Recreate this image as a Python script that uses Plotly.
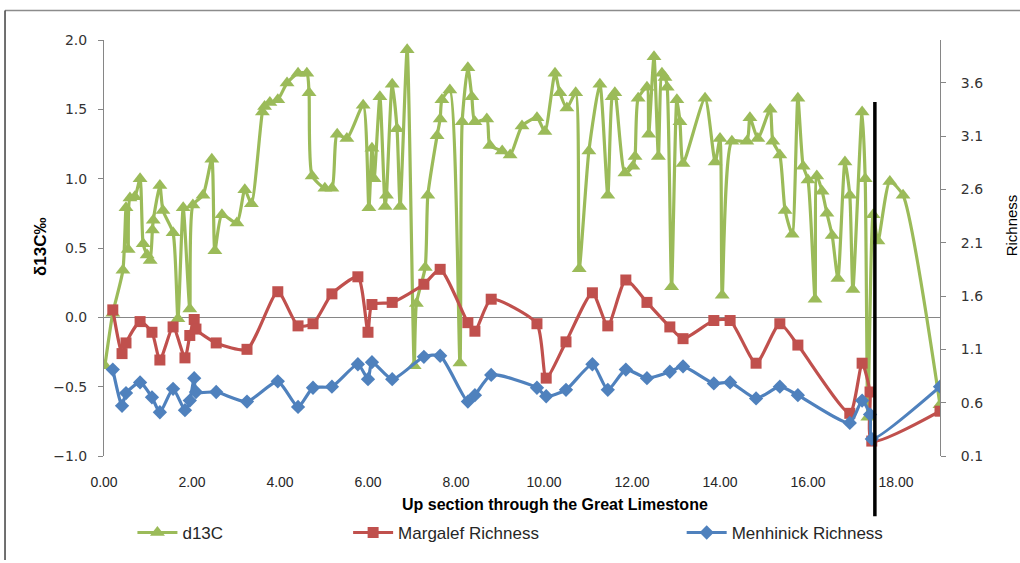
import plotly.graph_objects as go

# ---- d13C series (left axis) ----
depth_c = [0.02, 0.2, 0.43, 0.5, 0.55, 0.59, 0.7, 0.82, 0.89, 0.98,
           1.05, 1.1, 1.12, 1.27, 1.34, 1.57, 1.68, 1.8, 1.95, 2.02,
           2.25, 2.45, 2.52, 2.68, 3.02, 3.2, 3.35, 3.6, 3.65, 3.77,
           3.95, 4.16, 4.41, 4.61, 4.66, 4.73, 5.02, 5.18, 5.3, 5.52,
           5.89, 6.02, 6.09, 6.14, 6.27, 6.39, 6.42, 6.55, 6.66, 6.73,
           6.89, 7.05, 7.1, 7.3, 7.36, 7.57, 7.64, 7.68, 7.86, 8.09,
           8.14, 8.27, 8.36, 8.43, 8.7, 8.77, 9.05, 9.23, 9.5, 9.84,
           10.02, 10.25, 10.36, 10.52, 10.72, 10.8, 11.02, 11.27, 11.45, 11.55,
           11.61, 11.84, 12.02, 12.07, 12.14, 12.34, 12.38, 12.5, 12.6, 12.68,
           12.75, 12.8, 12.9, 13.02, 13.09, 13.16, 13.66, 13.89, 14.0, 14.05,
           14.27, 14.61, 14.68, 14.86, 15.14, 15.2, 15.36, 15.48, 15.64, 15.77,
           15.89, 16.0, 16.16, 16.2, 16.32, 16.43, 16.55, 16.68, 16.84, 16.95,
           17.02, 17.23, 17.3, 17.36, 17.48, 17.59, 17.86, 18.16, 19.0]
d13c = [-0.35, 0.03, 0.34, 0.79, 0.49, 0.86, 0.87, 1.0, 0.53, 0.45,
        0.41, 0.63, 0.7, 0.95, 0.77, 0.61, -0.01, 0.79, 0.06, 0.81,
        0.88, 1.14, 0.48, 0.74, 0.68, 0.92, 0.82, 1.48, 1.52, 1.55,
        1.57, 1.69, 1.76, 1.76, 1.62, 1.02, 0.93, 0.93, 1.32, 1.29,
        1.53, 0.79, 1.22, 1.0, 1.59, 0.8, 0.88, 1.68, 1.36, 0.8,
        1.93, -0.35, 0.1, 0.36, 0.88, 1.31, 1.43, 1.57, 1.64, -0.33,
        1.41, 1.8, 1.59, 1.41, 1.43, 1.24, 1.2, 1.17, 1.38, 1.44,
        1.34, 1.76, 1.62, 1.51, 1.62, 0.35, 1.2, 1.68, 0.88, 1.59,
        1.62, 1.04, 1.09, 1.16, 1.58, 1.66, 1.32, 1.88, 1.16, 1.76,
        1.73, 1.66, 0.22, 1.57, 1.41, 1.11, 1.58, 1.12, 1.29, 0.16,
        1.27, 1.27, 1.44, 1.29, 1.5, 1.27, 1.17, 0.77, 0.6, 1.58,
        1.09, 0.99, 0.13, 1.02, 0.91, 0.75, 0.59, 0.28, 1.12, 0.88,
        0.2, 1.48, 1.0, -0.72, 0.74, 0.55, 0.98, 0.88, -0.63]

# ---- Richness series (right axis) ----
depth_r = [0.2, 0.41, 0.5, 0.82, 1.09, 1.27, 1.57, 1.84, 1.95, 2.05,
           2.09, 2.55, 3.25, 3.95, 4.41, 4.75, 5.18, 5.77, 6.0, 6.09,
           6.55, 7.27, 7.64, 8.27, 8.43, 8.8, 9.84, 10.05, 10.5, 11.1,
           11.45, 11.86, 12.34, 12.86, 13.16, 13.86, 14.23, 14.82, 15.36, 15.77,
           16.95, 17.23, 17.41, 17.45, 19.0]
margalef = [1.47, 1.06, 1.16, 1.36, 1.26, 1.0, 1.31, 1.02, 1.23, 1.38,
            1.29, 1.16, 1.1, 1.64, 1.32, 1.34, 1.62, 1.78, 1.26, 1.52,
            1.54, 1.71, 1.85, 1.35, 1.27, 1.57, 1.34, 0.83, 1.17, 1.63,
            1.32, 1.75, 1.54, 1.31, 1.2, 1.37, 1.37, 0.97, 1.34, 1.14,
            0.5, 0.97, 0.7, 0.24, 0.52]
menhinick = [0.91, 0.57, 0.69, 0.79, 0.65, 0.51, 0.73, 0.53, 0.62, 0.83,
             0.7, 0.7, 0.61, 0.8, 0.56, 0.74, 0.75, 0.96, 0.82, 0.98,
             0.82, 1.03, 1.04, 0.61, 0.67, 0.86, 0.74, 0.66, 0.72, 0.96,
             0.72, 0.91, 0.83, 0.89, 0.94, 0.78, 0.79, 0.64, 0.75, 0.67,
             0.41, 0.62, 0.49, 0.26, 0.75]

x_ticks = [0, 2, 4, 6, 8, 10, 12, 14, 16, 18]
left_ticks = [-1.0, -0.5, 0.0, 0.5, 1.0, 1.5, 2.0]
right_ticks = [0.1, 0.6, 1.1, 1.6, 2.1, 2.6, 3.1, 3.6]
marker_depth = 17.52

GREEN = "#9BBB59"
RED = "#C0504D"
BLUE = "#4F81BD"
AXIS = "#868686"
FONT = "Liberation Sans Narrow, Arial Narrow, Liberation Sans, sans-serif"

fig = go.Figure()
fig.add_trace(go.Scatter(
    x=depth_c, y=d13c, name="d13C", mode="lines+markers",
    line=dict(color=GREEN, width=3.2, shape="spline", smoothing=0.6),
    marker=dict(symbol="triangle-up", size=13, color=GREEN),
    legend="legend"))
fig.add_trace(go.Scatter(
    x=depth_r, y=margalef, name="Margalef Richness", mode="lines+markers",
    line=dict(color=RED, width=3.2, shape="spline", smoothing=0.6),
    marker=dict(symbol="square", size=11, color=RED),
    yaxis="y2", legend="legend2"))
fig.add_trace(go.Scatter(
    x=depth_r, y=menhinick, name="Menhinick Richness", mode="lines+markers",
    line=dict(color=BLUE, width=3.2, shape="spline", smoothing=0.6),
    marker=dict(symbol="diamond", size=11, color=BLUE),
    yaxis="y2", legend="legend3"))

legend_common = dict(orientation="h", yanchor="middle", y=-0.185,
                     xanchor="left", bgcolor="rgba(0,0,0,0)",
                     font=dict(family=FONT, size=17, color="#262626"),
                     itemwidth=40)

fig.update_layout(
    width=1020, height=563,
    margin=dict(l=104, r=80, t=40, b=101),
    paper_bgcolor="white", plot_bgcolor="white",
    showlegend=True,
    legend=dict(x=0.034, **legend_common),
    legend2=dict(x=0.292, **legend_common),
    legend3=dict(x=0.691, **legend_common),
    xaxis=dict(range=[0, 19], tickvals=x_ticks, tickformat=".2f",
               showgrid=False, zeroline=False, showline=False, ticks="",
               ticklabelstandoff=16,
               tickfont=dict(family=FONT, size=14, color="#262626")),
    yaxis=dict(range=[-1.0, 2.0], tickvals=left_ticks, tickformat=".1f",
               showgrid=False, showline=True, linecolor=AXIS, linewidth=1,
               ticks="outside", ticklen=5, tickcolor=AXIS,
               ticklabelstandoff=8,
               zeroline=True, zerolinecolor=AXIS, zerolinewidth=1,
               tickfont=dict(family="DejaVu Sans", size=14, color="#333333")),
    yaxis2=dict(range=[0.1, 4.0], tickvals=right_ticks, tickformat=".1f",
                overlaying="y", side="right",
                showgrid=False, zeroline=False, showline=True,
                linecolor=AXIS, linewidth=1,
                ticks="outside", ticklen=5, tickcolor=AXIS,
                ticklabelstandoff=12,
                tickfont=dict(family="DejaVu Sans", size=14, color="#333333")),
    annotations=[
        dict(text="<b>Up section through the Great Limestone</b>",
             xref="paper", yref="paper", x=(555 - 104) / 836, y=(462 - 511) / 422,
             xanchor="center", yanchor="middle", showarrow=False,
             font=dict(family=FONT, size=16, color="#000000")),
        dict(text="<b>δ13C‰</b>", textangle=-90,
             xref="paper", yref="paper", x=(40 - 104) / 836, y=(462 - 250) / 422,
             xanchor="center", yanchor="middle", showarrow=False,
             font=dict(family=FONT, size=17, color="#000000")),
        dict(text="Richness", textangle=-90,
             xref="paper", yref="paper", x=(1011 - 104) / 836, y=(462 - 228) / 422,
             xanchor="center", yanchor="middle", showarrow=False,
             font=dict(family=FONT, size=15, color="#000000")),
    ],
    shapes=[
        dict(type="line", xref="x", yref="paper", x0=marker_depth, x1=marker_depth,
             y0=-0.145, y1=0.851, line=dict(color="black", width=3.5)),
        dict(type="line", xref="paper", yref="paper", x0=-0.1184, x1=1.1,
             y0=1.0711, y1=1.0711, line=dict(color="#8c8c8c", width=1.5)),
        dict(type="line", xref="paper", yref="paper", x0=-0.1184, x1=-0.1184,
             y0=1.0711, y1=-0.25, line=dict(color="#404040", width=1.5)),
    ],
)

fig.write_html("out.html", config={"displayModeBar": False},
               post_script="document.body.style.margin='0';")
